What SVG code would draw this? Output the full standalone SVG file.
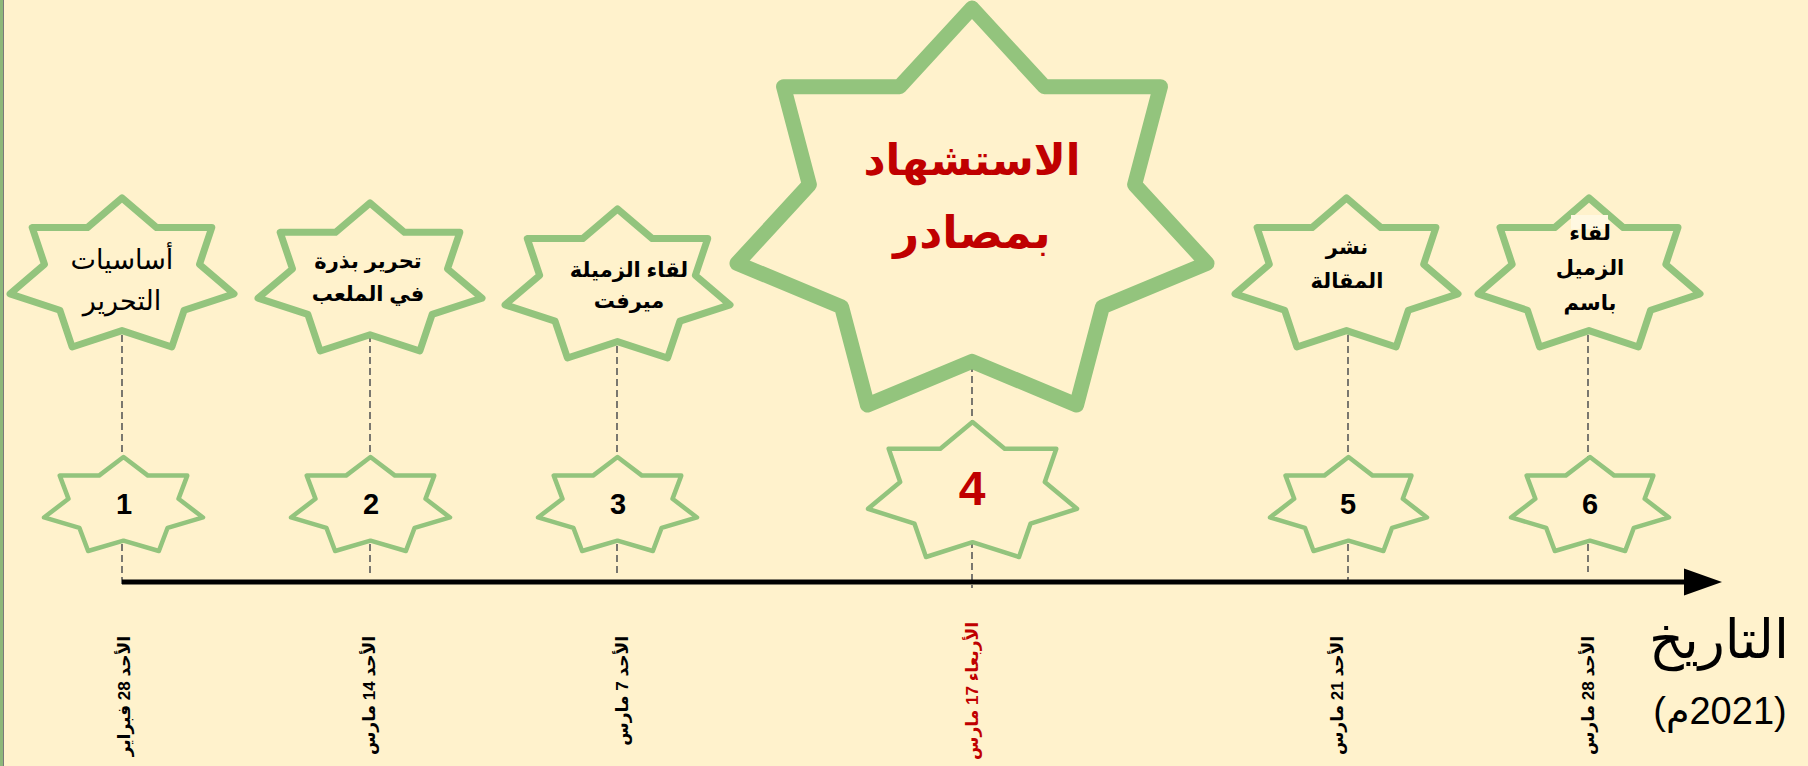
<svg xmlns="http://www.w3.org/2000/svg" xmlns:xlink="http://www.w3.org/1999/xlink" width="1808" height="766" viewBox="0 0 1808 766">
<style>
.star{fill:#FFF2CC;stroke:#93C47D;stroke-linejoin:round}
.st{vector-effect:non-scaling-stroke}
.sw-top{stroke-width:7}
.sw-big{stroke-width:15}
.sw-small{stroke-width:4.5}
.ar{font-family:'Liberation Sans','DejaVu Sans',sans-serif;text-anchor:middle;fill:#000}
.b{font-weight:bold}
.red{fill:#C00000}
.num{font-family:'Liberation Sans',Arial,sans-serif;font-weight:bold;text-anchor:middle}
.date{font-family:'Liberation Sans','DejaVu Sans',sans-serif;font-weight:bold;font-size:17px;text-anchor:start}
.dash{stroke:#595959;stroke-width:1.6;stroke-dasharray:7 4;fill:none}
</style>
<defs>
<path id="s7" class="st" d="M0,64.311 L15.399,44.504 L9.903,19.806 L34.601,19.806 L50,0 L65.399,19.806 L90.097,19.806 L84.601,44.504 L100,64.311 L77.748,75.303 L72.252,100 L50,89.009 L27.748,100 L22.252,75.303 Z"/>
</defs>
<rect x="0" y="0" width="1808" height="766" fill="#FFF2CC"/>
<rect x="0" y="0" width="3" height="766" fill="#8DB87A"/>
<line x1="3.5" y1="0" x2="3.5" y2="766" stroke="#7A7A7A" stroke-width="1"/>

<g id="connectors">
<line class="dash" x1="122" y1="280" x2="122" y2="588"/>
<line class="dash" x1="370" y1="280" x2="370" y2="574"/>
<line class="dash" x1="617" y1="280" x2="617" y2="575"/>
<line class="dash" x1="972" y1="200" x2="972" y2="588"/>
<line class="dash" x1="1348" y1="280" x2="1348" y2="584"/>
<line class="dash" x1="1588" y1="280" x2="1588" y2="572"/>
<line x1="122" y1="582" x2="1688" y2="582" stroke="#000" stroke-width="5"/>
<polygon points="1684,568.5 1722,582 1684,595.5" fill="#000"/>
</g>

<g id="event1">
<use xlink:href="#s7" class="star sw-top" transform="translate(10,198) scale(2.24,1.49)"/>
<text class="ar" font-size="27" x="122" y="269">أساسيات</text>
<text class="ar" font-size="27" x="122" y="310">التحرير</text>
</g>
<g id="event2">
<use xlink:href="#s7" class="star sw-top" transform="translate(258,203) scale(2.24,1.48)"/>
<text class="ar b" font-size="21" x="368" y="268">تحرير بذرة</text>
<text class="ar b" font-size="21" x="368" y="301">في الملعب</text>
</g>
<g id="event3">
<use xlink:href="#s7" class="star sw-top" transform="translate(505,209) scale(2.25,1.49)"/>
<text class="ar b" font-size="21" x="629" y="277">لقاء الزميلة</text>
<text class="ar b" font-size="21" x="629" y="308">ميرفت</text>
</g>
<g id="event4">
<use xlink:href="#s7" class="star sw-big" transform="translate(737,8) scale(4.70,3.97)"/>
<text class="ar b red" font-size="43" x="972" y="175">الاستشهاد</text>
<text class="ar b red" font-size="45" x="972" y="248">بمصادر</text>
</g>
<g id="event5">
<use xlink:href="#s7" class="star sw-top" transform="translate(1235,198) scale(2.23,1.49)"/>
<text class="ar b" font-size="21" x="1347" y="254">نشر</text>
<text class="ar b" font-size="21" x="1347" y="288">المقالة</text>
</g>
<g id="event6">
<use xlink:href="#s7" class="star sw-top" transform="translate(1478,198) scale(2.22,1.49)"/>
<rect x="1571" y="215" width="37" height="14" fill="#FFF8E1"/>
<text class="ar b" font-size="21" x="1590" y="240">لقاء</text>
<text class="ar b" font-size="21" x="1590" y="275">الزميل</text>
<text class="ar b" font-size="21" x="1590" y="310">باسم</text>
</g>

<g id="mark1">
<use xlink:href="#s7" class="star sw-small" transform="translate(44,457) scale(1.59,0.94)"/>
<text class="num" font-size="29" x="124" y="514">1</text>
</g>
<g id="mark2">
<use xlink:href="#s7" class="star sw-small" transform="translate(291,457) scale(1.59,0.94)"/>
<text class="num" font-size="29" x="371" y="514">2</text>
</g>
<g id="mark3">
<use xlink:href="#s7" class="star sw-small" transform="translate(538,457) scale(1.59,0.94)"/>
<text class="num" font-size="29" x="618" y="514">3</text>
</g>
<g id="mark4">
<use xlink:href="#s7" class="star sw-small" transform="translate(868,422) scale(2.09,1.35)"/>
<text class="num red" font-size="48" x="972" y="505">4</text>
</g>
<g id="mark5">
<use xlink:href="#s7" class="star sw-small" transform="translate(1270,457) scale(1.57,0.94)"/>
<text class="num" font-size="29" x="1348" y="514">5</text>
</g>
<g id="mark6">
<use xlink:href="#s7" class="star sw-small" transform="translate(1511,457) scale(1.58,0.94)"/>
<text class="num" font-size="29" x="1590" y="514">6</text>
</g>

<g id="dates">
<text class="date" direction="rtl" transform="translate(130,636) rotate(-90)">الأحد 28 فبراير</text>
<text class="date" direction="rtl" transform="translate(375,636) rotate(-90)">الأحد 14 مارس</text>
<text class="date" direction="rtl" transform="translate(628,636) rotate(-90)">الأحد 7 مارس</text>
<text class="date red" direction="rtl" transform="translate(978,622) rotate(-90)" font-size="18">الأربعاء 17 مارس</text>
<text class="date" direction="rtl" transform="translate(1343,636) rotate(-90)">الأحد 21 مارس</text>
<text class="date" direction="rtl" transform="translate(1594,636) rotate(-90)">الأحد 28 مارس</text>
</g>

<g id="axis-title">
<text class="ar" font-size="54" x="1719" y="658">التاريخ</text>
<text class="ar" font-size="38" x="1720" y="724" direction="rtl">(2021م)</text>
</g>
</svg>
